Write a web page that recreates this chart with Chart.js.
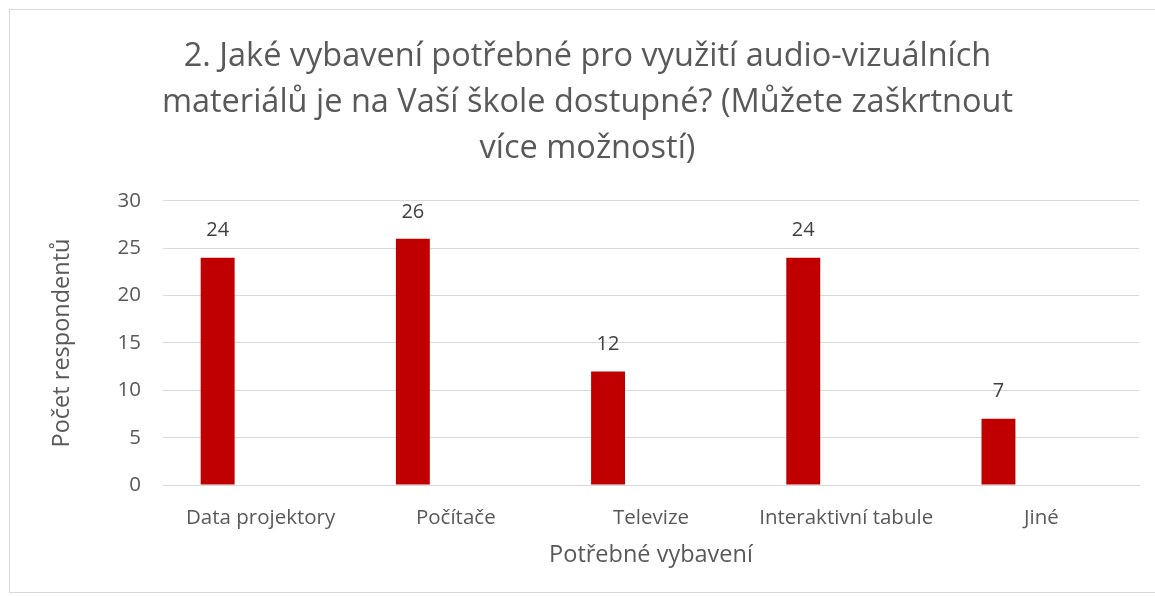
<!DOCTYPE html>
<html>
<head>
<meta charset="utf-8">
<script src="https://cdn.jsdelivr.net/npm/chart.js@4"></script>
<style>
  body { margin: 0; background: #fff; }
  #box { position: absolute; left: 9px; top: 9px; width: 1150px; height: 582px; border: 1px solid #d9d9d9; }
</style>
</head>
<body>
<div id="box"><canvas id="chart"></canvas></div>
<script>
// data
var categories = ["Data projektory", "Počítače", "Televize", "Interaktivní tabule", "Jiné"];
var counts = [24, 26, 12, 24, 7];
var emptySeries = [null, null, null, null, null];
var yTicks = [0, 5, 10, 15, 20, 25, 30];

var grey = "#595959";
var font = "'Open Sans', sans-serif";

// values above the bars
var valueLabels = {
    id: "valueLabels",
    afterDatasetsDraw: function(chart) {
        var ctx = chart.ctx;
        var meta = chart.getDatasetMeta(0);
        ctx.save();
        ctx.fillStyle = "#404040";
        ctx.font = "20px " + font;
        ctx.textAlign = "center";
        ctx.textBaseline = "middle";
        meta.data.forEach(function(bar, i) {
            ctx.fillText(counts[i], bar.x, bar.y - 27);
        });
        ctx.restore();
    }
};

var ctx = document.getElementById("chart");
var chart = new Chart(ctx, {
    type: "bar",
    data: {
        labels: categories,
        datasets: [
            { label: "Počet", data: counts, backgroundColor: "#c00000",
              categoryPercentage: 0.88, barPercentage: 0.395 },
            { label: "", data: emptySeries, backgroundColor: "#c00000",
              categoryPercentage: 0.88, barPercentage: 0.395 }
        ]
    },
    options: {
        responsive: true,
        maintainAspectRatio: false,
        animation: false,
        layout: { padding: { left: 26, right: 21, top: 0, bottom: 23 } },
        plugins: {
            legend: { display: false },
            tooltip: { enabled: false },
            title: {
                display: true,
                text: ["2. Jaké vybavení potřebné pro využití audio-vizuálních",
                       "materiálů je na Vaší škole dostupné? (Můžete zaškrtnout",
                       "více možností)"],
                color: grey,
                font: { family: font, size: 32.5, weight: "normal", lineHeight: 1.415 },
                padding: { top: 24, bottom: 29 }
            }
        },
        scales: {
            x: {
                afterFit: function(s) { s.height = 84; },
                grid: { display: false },
                border: { color: "#d9d9d9" },
                ticks: { color: grey, font: { family: font, size: 20.5 }, padding: 13, maxRotation: 0 },
                title: { display: true, text: "Potřebné vybavení", color: grey,
                         font: { family: font, size: 23.5 }, padding: { top: 0, bottom: 0 } }
            },
            y: {
                min: 0, max: 30,
                afterBuildTicks: function(s) { s.ticks = yTicks.map(function(v) { return { value: v }; }); },
                afterFit: function(s) { s.width = 127; },
                grid: { color: "#d9d9d9", lineWidth: 1, drawTicks: false },
                border: { display: false },
                ticks: { color: grey, font: { family: font, size: 20.5 }, padding: 22 },
                title: { display: true, text: "Počet respondentů", color: grey,
                         font: { family: font, size: 23.5 }, padding: { top: 12, bottom: 0 } }
            }
        }
    },
    plugins: [valueLabels]
});
</script>
</body>
</html>
